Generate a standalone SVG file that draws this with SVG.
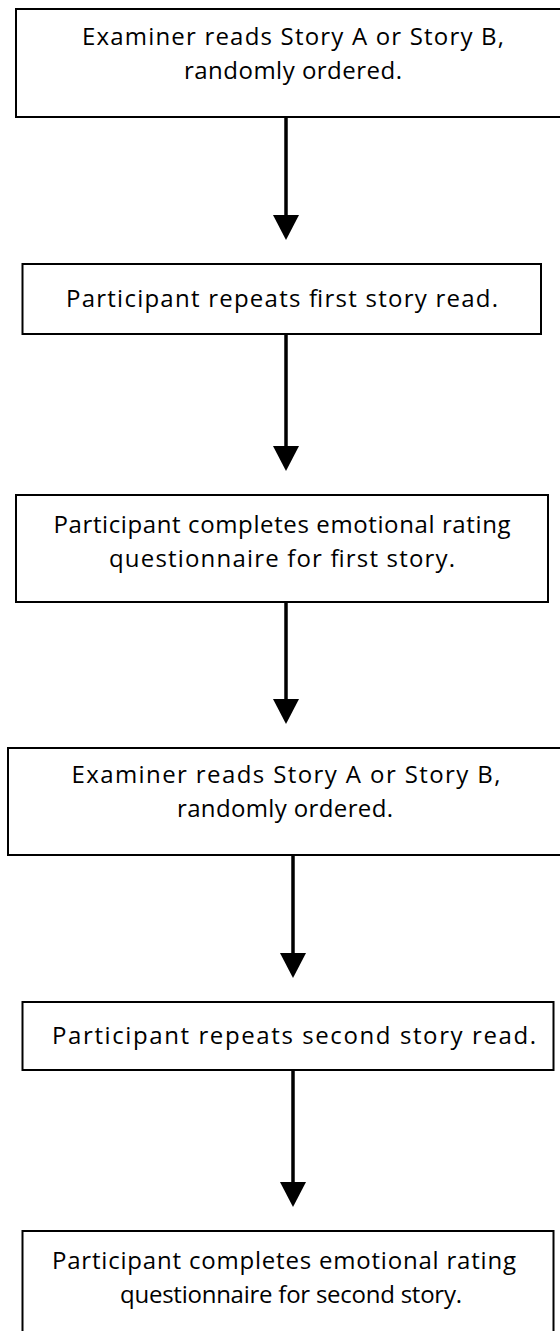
<svg xmlns="http://www.w3.org/2000/svg" width="560" height="1331" viewBox="0 0 560 1331">
<style>
.box{fill:#fff;stroke:#000;stroke-width:2}
.t{font-family:"Comic Sans MS","Open Sans","DejaVu Sans",sans-serif;font-size:24px;fill:#000;text-anchor:middle}
.conn{stroke:#000;stroke-width:3.5;fill:none;marker-end:url(#ah)}
</style>
<defs>
<marker id="ah" viewBox="0 0 25 26" refX="15" refY="13" markerWidth="25" markerHeight="26" markerUnits="userSpaceOnUse" orient="auto">
<path d="M0,0 L25,13 L0,26 z" fill="#000"/>
</marker>
</defs>
<rect width="560" height="1331" fill="#fff"/>
<g id="connectors">
<line class="conn" x1="286" y1="117" x2="286" y2="230"/>
<line class="conn" x1="286" y1="334" x2="286" y2="461"/>
<line class="conn" x1="286" y1="602" x2="286" y2="714"/>
<line class="conn" x1="293" y1="855" x2="293" y2="968"/>
<line class="conn" x1="293" y1="1070" x2="293" y2="1197"/>
</g>
<g id="node1">
<rect class="box" x="16" y="9" width="554" height="108"/>
<text class="t" x="293" y="45" textLength="422">Examiner reads Story A or Story B,</text>
<text class="t" x="293" y="79" textLength="218">randomly ordered.</text>
</g>
<g id="node2">
<rect class="box" x="22.5" y="264" width="518.5" height="70"/>
<text class="t" x="282" y="307" textLength="432">Participant repeats first story read.</text>
</g>
<g id="node3">
<rect class="box" x="16" y="495" width="532" height="107"/>
<text class="t" x="282" y="533" textLength="457">Participant completes emotional rating</text>
<text class="t" x="282" y="567" textLength="346">questionnaire for first story.</text>
</g>
<g id="node4">
<rect class="box" x="8" y="748" width="560" height="107"/>
<text class="t" x="286" y="783" textLength="429">Examiner reads Story A or Story B,</text>
<text class="t" x="285" y="817" textLength="216">randomly ordered.</text>
</g>
<g id="node5">
<rect class="box" x="22.5" y="1002" width="531" height="68"/>
<text class="t" x="294" y="1044" textLength="484">Participant repeats second story read.</text>
</g>
<g id="node6">
<rect class="box" x="22.5" y="1231" width="531" height="120"/>
<text class="t" x="284" y="1269" textLength="464">Participant completes emotional rating</text>
<text class="t" x="291" y="1303" textLength="342">questionnaire for second story.</text>
</g>
</svg>
